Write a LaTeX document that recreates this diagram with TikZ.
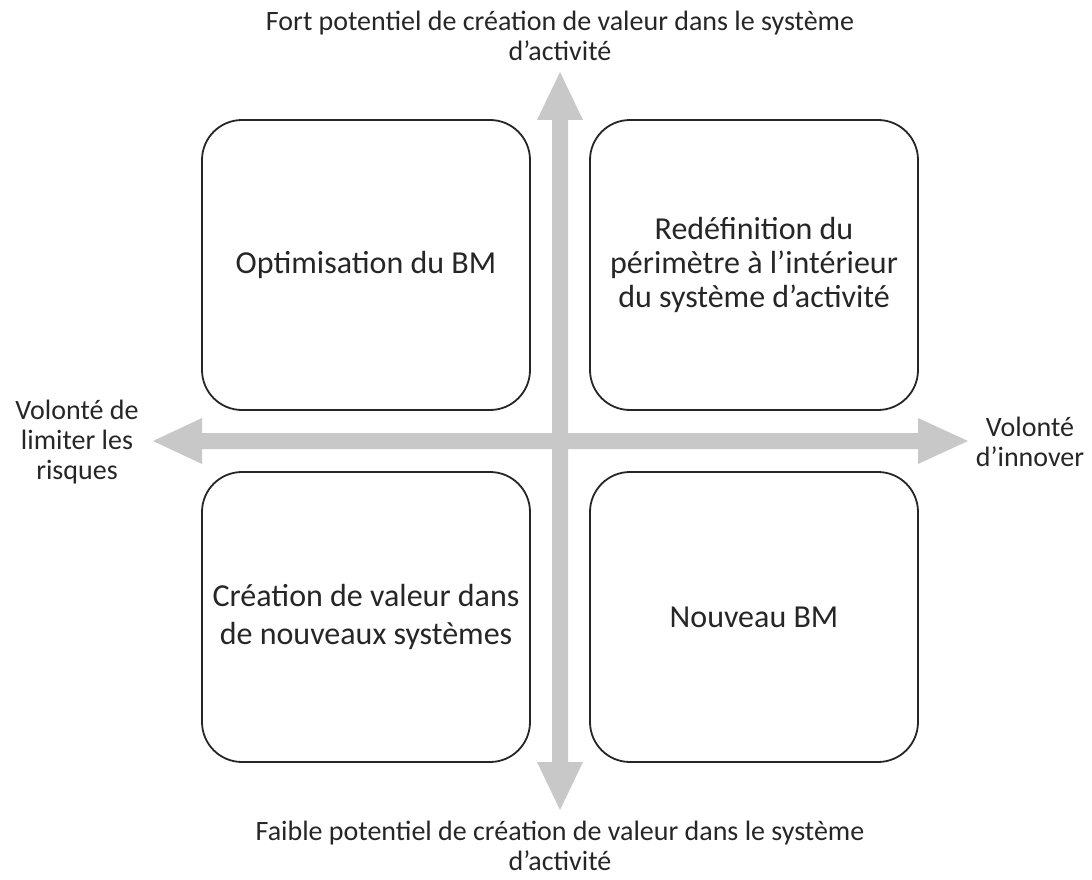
\documentclass[tikz,border=0pt]{standalone}
\usepackage{fontspec}
\setmainfont{Carlito}
\definecolor{arrowgray}{HTML}{C8C8C8}
\definecolor{txt}{HTML}{262626}
\tikzset{
  quad/.style={draw=black!85, line width=1.8pt, rounded corners=40pt, fill=white,
    minimum width=328pt, minimum height=290pt, inner sep=0pt, align=center,
    text=txt, font=\fontsize{32pt}{34pt}\selectfont},
  axislabel/.style={align=center, text=txt, inner sep=0pt,
    font=\fontsize{28pt}{30pt}\selectfont},
  axisarrow/.style={fill=arrowgray, draw=none}
}
\begin{document}
\begin{tikzpicture}[x=1pt,y=-1pt]
\useasboundingbox (0,0) rectangle (1092,880);
% axes
\coordinate (c) at (560,441);
\fill[axisarrow] (552,120) -- (537,120) -- (560,72) -- (583,120) -- (568,120)
  -- (568,762) -- (583,762) -- (560,810) -- (537,762) -- (552,762) -- cycle;
\fill[axisarrow] (202,433) -- (202,418) -- (153,441) -- (202,464) -- (202,449)
  -- (918,449) -- (918,464) -- (968,441) -- (918,418) -- (918,433) -- cycle;
% quadrants
\node[quad] (tl) at (366,265) {Optimisation du BM};
\node[quad] (tr) at (754,265) {Redéfinition du\\périmètre à l’intérieur\\du système d’activité};
\node[quad, font=\fontsize{32pt}{38pt}\selectfont] (bl) at (366,617) {Création de valeur dans\\de nouveaux systèmes};
\node[quad] (br) at (754,617) {Nouveau BM};
% axis labels
\node[axislabel] (top) at (560,36) {Fort potentiel de création de valeur dans le système\\d’activité};
\node[axislabel] (bottom) at (560,846) {Faible potentiel de création de valeur dans le système\\d’activité};
\node[axislabel] (left) at (77,442) {Volonté de\\limiter les\\risques};
\node[axislabel] (right) at (1030,442) {Volonté\\d’innover};
\end{tikzpicture}
\end{document}
